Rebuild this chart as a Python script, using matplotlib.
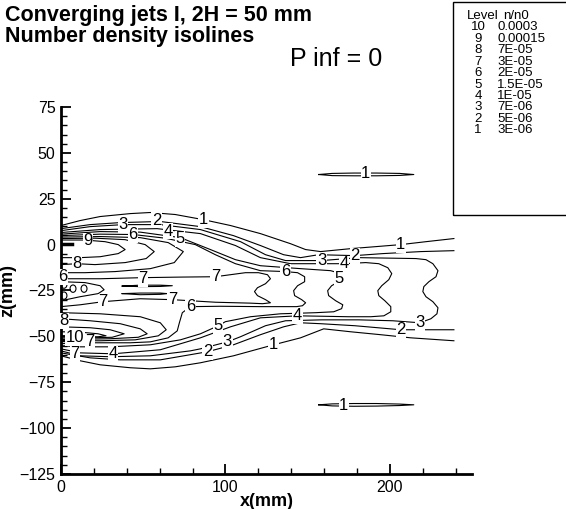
'''
Converging jets I - number density isolines (Tecplot style redraw)
'''
import matplotlib
matplotlib.use('Agg')
import matplotlib.pyplot as plt
from matplotlib.patches import Ellipse, Rectangle
from matplotlib.ticker import MultipleLocator

plt.rcParams['font.family'] = ['Liberation Sans', 'DejaVu Sans']

# contour level table
levels = ['10', '9', '8', '7', '6', '5', '4', '3', '2', '1']
level_values = ['0.0003', '0.00015', '7E-05', '3E-05', '2E-05', '1.5E-05', '1E-05', '7E-06', '5E-06', '3E-06']

# isolines, x(mm) / z(mm)
line1_up_x = [0, 11.6, 23.8, 42.1, 54.3, 69.5, 86.6, 103.1, 121.3, 139.6, 148.8, 157.9, 176.2, 191.5, 206.7, 222, 239]
line1_up_z = [10.4, 13.1, 15.3, 16.9, 17.5, 16.4, 13.6, 10.4, 6.0, 0.5, -2.7, -3.8, -2.2, -1.1, 0.0, 1.6, 3.3]
line1_lo_x = [0, 11.6, 23.8, 42.1, 54.3, 69.5, 84.8, 104.9, 129.3, 145.7, 159.8, 176.2, 194.5, 212.8, 239]
line1_lo_z = [-60.6, -63.3, -65.5, -67.1, -67.7, -66.6, -64.4, -60.6, -54.6, -50.8, -45.9, -47.5, -49.1, -50.8, -52.4]
line2_up_x = [0, 17.7, 36, 60.4, 84.8, 104.9, 121.3, 135.4, 145.7, 156.7, 178.7, 195.7, 218.9, 239]
line2_up_z = [8.7, 10.9, 12.0, 12.6, 9.8, 4.9, -0.5, -5.5, -7.1, -5.5, -6.0, -4.9, -3.8, -3.3]
line2_lo_x = [0, 17.7, 36, 60.4, 89, 104.9, 121.3, 135.4, 145.7, 157.9, 178.7, 206.7, 239]
line2_lo_z = [-59.0, -61.7, -62.8, -62.8, -58.4, -54.6, -49.1, -44.8, -42.6, -43.1, -44.2, -46.4, -46.4]

line3_x = [0, 17.7, 37.8, 60.4, 84.8, 109.2, 124.4, 136.6, 158.5, 181.1,
           215.9, 222, 226.2, 229.3, 228.1, 223.8, 220.7, 220.1, 222, 226.2, 229.3, 228.7, 225, 218.3,
           201.8, 181.1, 158.5, 136.6, 124.4, 109.2, 101.2, 84.8, 78.7, 54.3, 29.9, 11.6, 0]
line3_z = [7.6, 9.8, 10.9, 10.9, 8.2, 1.6, -5.5, -8.7, -8.7, -7.1,
           -7.6, -8.2, -10.4, -14.2, -17.5, -20.2, -22.9, -25.6, -28.4, -31.1, -34.4, -37.7, -40.4, -42.6,
           -41.5, -41.0, -41.0, -41.5, -44.2, -50.2, -53.0, -56.8, -57.9, -60.6, -61.1, -60.6, -57.9]
line4_x = [0, 23.8, 58.5, 84.8, 106.1, 121.3, 139.6, 172,
           185.4, 193.3, 198.8, 201.2, 199.4, 195.1, 192.7, 193.3, 197, 200.6, 200.6, 196.4, 188.4, 175,
           143.9, 121.3, 103.1, 84.8, 60.4, 31.7, 11.6, 0]
line4_z = [6.6, 8.2, 8.7, 6.0, -0.5, -7.1, -10.4, -10.4,
           -9.8, -10.4, -12.6, -15.8, -19.1, -22.4, -25.1, -27.8, -30.6, -33.8, -36.6, -38.8, -39.3, -39.3,
           -38.8, -39.9, -44.8, -50.8, -57.3, -59.5, -59.0, -56.8]
line5_x = [0, 23.8, 48.2, 72.6, 90.9, 106.1, 121.3, 145.7,
           164, 168.3, 170.7, 168.9, 164.6, 162.2, 162.8, 167.1, 171.4, 170.7, 165.9, 154.9,
           133.5, 115.3, 100, 95.7, 84.8, 72.6, 54.3, 29.9, 11.6, 0]
line5_z = [5.7, 7.1, 6.8, 3.8, -2.7, -8.2, -11.5, -13.1,
           -14.2, -15.3, -17.5, -20.2, -22.4, -25.1, -27.8, -30.6, -32.8, -34.9, -36.6, -37.1,
           -37.7, -39.3, -42.0, -44.2, -48.6, -51.9, -54.6, -55.7, -55.7, -55.1]
line6_x = [0, 23.8, 43.9, 63.4, 81.7, 93.9, 106.1, 121.3,
           136.6, 143.9, 148.2, 148.2, 143.9, 141.5, 142.1, 146.4, 148.8, 146.9, 143.3,
           121.3, 97, 78.7, 73.8, 72, 70.7, 65.2, 54.3, 42.1, 23.8, 11.6, 0]
line6_z = [4.9, 5.7, 5.5, 3.5, 0.0, -5.5, -10.4, -14.2,
           -14.7, -15.3, -17.5, -20.2, -22.4, -25.1, -27.8, -30.0, -31.7, -33.3, -33.8,
           -33.8, -33.6, -33.8, -37.1, -42.6, -47.0, -50.8, -53.0, -53.5, -53.5, -53.5, -54.0]
line7_mid_x = [0, 23.8, 50, 72.6, 93.9,
               112.2, 120.1, 125.6, 127.4, 124.4, 119.5, 117.7, 119.5, 124.4, 127.4, 122.6, 115.3,
               93.9, 67.7, 48.2, 25.6, 11.6, 0]
line7_mid_z = [-18.6, -18.6, -18.0, -17.7, -17.5,
               -15.3, -15.3, -16.4, -18.6, -21.3, -23.5, -25.6, -27.8, -30.0, -31.7, -32.2, -31.9,
               -31.4, -30.0, -29.5, -31.1, -32.8, -33.8]

# upper jet core loops
up9_x = [0, 14.6, 26.8, 34.8, 39, 34.8, 23.8, 11.6, 0]
up9_z = [2.5, 2.5, 1.6, 0.0, -2.7, -4.9, -6.6, -7.1, -7.1]
up8_x = [0, 20.7, 39, 51.2, 56.7, 51.8, 39, 20.7, 9.8, 0]
up8_z = [3.3, 3.5, 2.7, 0, -3.8, -7.6, -9.8, -10.9, -10.4, -10.9]
up7_x = [0, 23.8, 48.2, 65.2, 74.4, 68.9, 54.3, 32.9, 14.6, 0]
up7_z = [4.1, 4.4, 3.8, 1.1, -3.8, -9.8, -13.1, -14.7, -15.3, -15.3]

# lower jet core loops
lo7_x = [0, 23.8, 48.2, 60.4, 64, 59.2, 45.1, 23.8, 0]
lo7_z = [-37.1, -37.7, -39.3, -42.6, -46.4, -49.7, -51.9, -52.4, -52.4]
lo8_x = [0, 17.7, 36, 48.2, 52.4, 47, 29.9, 11.6, 0]
lo8_z = [-40.4, -41.5, -43.1, -45.9, -48.6, -50.5, -51.3, -51.6, -51.6]
lo9_x = [0, 17.7, 29.9, 38.4, 31.1, 17.7, 0]
lo9_z = [-44.8, -45.3, -46.4, -48.6, -50.5, -50.8, -50.8]
lo10_x = [0, 11.6, 22.6, 27.4, 22.6, 11.6, 0]
lo10_z = [-47.5, -47.7, -48.6, -49.7, -50.2, -50.2, -50.2]

# between the jets near the wall
fan8_x = [0, 14.6, 23.8, 26.2, 22.6, 11.6, 0]
fan8_z = [-20.2, -20.7, -22.4, -24.6, -26.7, -28.4, -30.6]
lensA_x = [37.2, 48.2, 60.4, 67.7, 60.4, 48.2, 37.2]
lensA_z = [-22.6, -22.1, -22.1, -22.4, -22.8, -22.9, -22.6]
lensB_x = [37.2, 48.2, 60.4, 64.6, 60.4, 48.2, 37.2]
lensB_z = [-26.7, -26.4, -26.4, -26.7, -27.1, -27.3, -26.7]
bubble_x = [7.3, 14.0, 1.8, 1.8]
bubble_z = [-24.0, -24.0, -21.8, -27.8]
nozzle_x = [0, 6.7]
nozzle_up_z = [0.5, 0.5]
nozzle_lo_z = [-51.9, -51.9]

# level 1 islands
isl_x = [156.7, 165, 178, 192, 206, 214.6, 206, 192, 178, 165, 156.7]
isl_up_z = [38.2, 38.8, 39.0, 39.0, 38.8, 38.2, 37.7, 37.5, 37.5, 37.6, 38.2]
isl_lo_z = [-87.3, -86.8, -86.6, -86.6, -86.9, -87.3, -87.7, -88.0, -88.1, -87.9, -87.3]

# contour labels
lab_x = [16.5, 9.8, 37.8, 58.0, 43.9, 65.0, 72.6, 86.6, 1.2, 1.8,
         50, 93.9, 136.6, 158.5, 172, 178.7, 206.7, 168.9, 67.7, 25.6, 78.7,
         143.9, 218.3, 206.7, 129.3, 101.2, 89, 95.7, 31.7, 8.5, 17.7, 8.5, 185.4, 172]
lab_z = [2.2, -10.4, 10.9, 13.4, 5.5, 7.2, 3.3, 13.6, -17.5, -41.5,
         -18.6, -17.5, -14.7, -8.7, -10.4, -6.0, 0.0, -18.6, -30.0, -31.1, -33.8,
         -38.8, -42.6, -46.4, -54.6, -53.0, -58.4, -44.2, -59.5, -50.8, -53.0, -59.5, 38.8, -87.9]
lab_s = ['9', '8', '3', '2', '6', '4', '5', '1', '6', '8',
         '7', '7', '6', '3', '4', '2', '1', '5', '7', '7', '6',
         '4', '3', '2', '1', '3', '2', '5', '4', '10', '7', '7', '1', '1']

fig = plt.figure(figsize=(5.66, 5.09), dpi=100)
ax = fig.add_axes([0.1078, 0.0688, 0.7261, 0.721])

curves = [(line1_up_x, line1_up_z), (line1_lo_x, line1_lo_z), (line2_up_x, line2_up_z), (line2_lo_x, line2_lo_z),
          (line3_x, line3_z), (line4_x, line4_z), (line5_x, line5_z), (line6_x, line6_z),
          (line7_mid_x, line7_mid_z), (up9_x, up9_z), (up8_x, up8_z), (up7_x, up7_z),
          (lo7_x, lo7_z), (lo8_x, lo8_z), (lo9_x, lo9_z), (lo10_x, lo10_z),
          (fan8_x, fan8_z), (lensA_x, lensA_z), (lensB_x, lensB_z),
          (isl_x, isl_up_z), (isl_x, isl_lo_z)]
for cx, cz in curves:
    ax.plot(cx, cz, color='black', lw=0.8, solid_joinstyle='round')

for bx, bz in zip(bubble_x, bubble_z):
    ax.add_patch(Ellipse((bx, bz), 3.6, 4.0, fill=False, ec='black', lw=0.8))
ax.plot(nozzle_x, nozzle_up_z, color='black', lw=2.5)
ax.plot(nozzle_x, nozzle_lo_z, color='black', lw=2.5)

for tx, tz, s in zip(lab_x, lab_z, lab_s):
    ax.text(tx, tz, s, ha='center', va='center', fontsize=12, zorder=5,
            bbox=dict(boxstyle='square,pad=0.03', fc='white', ec='none'))

ax.set_xlim(0, 250)
ax.set_ylim(-125, 75)
ax.spines['top'].set_visible(False)
ax.spines['right'].set_visible(False)
ax.spines['left'].set_linewidth(2)
ax.spines['bottom'].set_linewidth(2)
ax.xaxis.set_major_locator(MultipleLocator(100))
ax.xaxis.set_minor_locator(MultipleLocator(20))
ax.yaxis.set_major_locator(MultipleLocator(25))
ax.yaxis.set_minor_locator(MultipleLocator(5))
ax.tick_params(which='major', direction='in', length=7, width=1.3, labelsize=11.5, pad=4)
ax.tick_params(which='minor', direction='in', length=4.5, width=1)
ax.set_xlabel('x(mm)', fontsize=13, fontweight='bold', labelpad=-1)
ax.set_ylabel('z(mm)', fontsize=13, fontweight='bold', labelpad=2)

# titles
W, H = 566.0, 509.0
fig.text(5 / W, 1 - 21 / H, 'Converging jets I, 2H = 50 mm', fontsize=15.5, fontweight='bold', va='baseline')
fig.text(5 / W, 1 - 42 / H, 'Number density isolines', fontsize=15.5, fontweight='bold', va='baseline')
fig.text(290 / W, 1 - 66 / H, 'P inf = 0', fontsize=18, va='baseline')

# level legend box
fig.add_artist(Rectangle((453 / W, 1 - 215 / H), 0.3, 213 / H, transform=fig.transFigure,
                         fill=False, ec='black', lw=1))
fig.text(467 / W, 1 - 16 / H, 'Level', fontsize=9.5, va='center')
fig.text(503 / W, 1 - 16 / H, 'n/n0', fontsize=9.5, va='center')
for i in range(len(levels)):
    yy = 1 - (27.5 + 11.4 * i) / H
    fig.text(478 / W, yy, levels[i], fontsize=9.5, va='center', ha='center')
    fig.text(497 / W, yy, level_values[i], fontsize=9.5, va='center')

fig.savefig('out.png', dpi=100)
